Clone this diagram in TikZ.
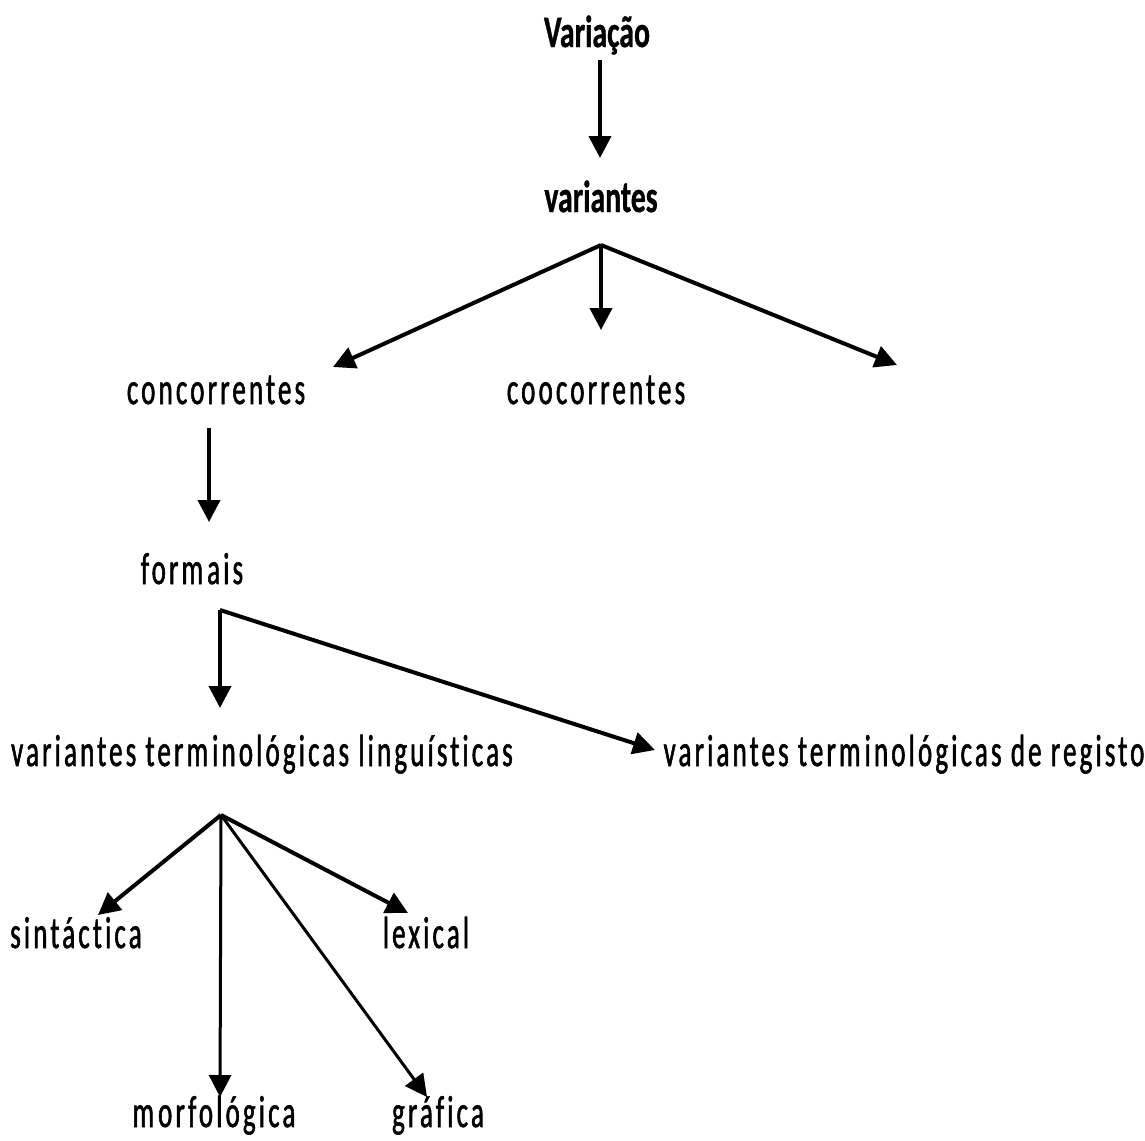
\documentclass[tikz,border=0pt]{standalone}
\usepackage{fontspec}
\usetikzlibrary{arrows.meta}
\newfontfamily\headfont[FakeStretch=0.66,FakeBold=0.8,Ligatures=NoCommon]{Carlito}
\newfontfamily\lblfont[FakeStretch=0.6,LetterSpace=7,FakeBold=1.2,Ligatures=NoCommon]{Carlito}
\newcommand{\mgap}{\kern2pt}

\begin{document}
\begin{tikzpicture}[x=0.5pt,y=0.5pt]
      \tikzset{every node/.style={inner sep=0pt, anchor=base},
        head/.style={font=\headfont\bfseries\fontsize{22.5}{27}\selectfont},
        lbl/.style={font=\lblfont\fontsize{22.5}{27}\selectfont},
        arr/.style={line width=2pt, -{Triangle[length=11pt,width=11pt]}},
        thinarr/.style={arr, line width=1.5pt}}
      \useasboundingbox (0,0) rectangle (1145,-1140);
      % labels
      \node [head] (var) at (597,-47) {Variação};
      \node [head] (vrt) at (601,-212) {variantes};
      \node [lbl] (conc) at (216,-404) {concorrentes};
      \node [lbl] (cooc) at (596,-404) {coocorrentes};
      \node [lbl] (form) at (192,-584) {form\mgap ais};
      \node [lbl] (vtl) at (262,-766) {variantes term\mgap inológicas linguísticas};
      \node [lbl] (vtr) at (904,-766) {variantes term\mgap inológicas de registo};
      \node [lbl] (sint) at (76,-948) {sintáctica};
      \node [lbl] (lex) at (426,-948) {lexical};
      \node [lbl] (morf) at (214,-1127) {m\mgap orfológica};
      \node [lbl] (graf) at (438,-1127) {gráfica};
      % branch points and arrow ends
      \coordinate (varOut) at (600,-60);
      \coordinate (vrtIn) at (600,-158);
      \coordinate (vrtOut) at (601,-245);
      \coordinate (concIn) at (333,-367);
      \coordinate (coocIn) at (601,-330);
      \coordinate (third) at (897,-365);
      \coordinate (concOut) at (209,-428);
      \coordinate (formIn) at (209,-522);
      \coordinate (formOut) at (220,-610);
      \coordinate (vtlIn) at (220,-708);
      \coordinate (vtrIn) at (655,-750);
      \coordinate (vtlOut) at (221,-815);
      \coordinate (sintIn) at (98,-915);
      \coordinate (lexIn) at (408,-913);
      \coordinate (morfIn) at (220,-1097);
      \coordinate (grafIn) at (427,-1097);
      % arrows
      \draw [arr] (varOut) -- (vrtIn);
      \draw [arr] (vrtOut) -- (concIn);
      \draw [arr] (vrtOut) -- (coocIn);
      \draw [arr] (vrtOut) -- (third);
      \draw [arr] (concOut) -- (formIn);
      \draw [arr] (formOut) -- (vtlIn);
      \draw [arr] (formOut) -- (vtrIn);
      \draw [arr] (vtlOut) -- (sintIn);
      \draw [arr] (vtlOut) -- (lexIn);
      \draw [thinarr] (vtlOut) -- (morfIn);
      \draw [thinarr] (vtlOut) -- (grafIn);
\end{tikzpicture}
\end{document}
